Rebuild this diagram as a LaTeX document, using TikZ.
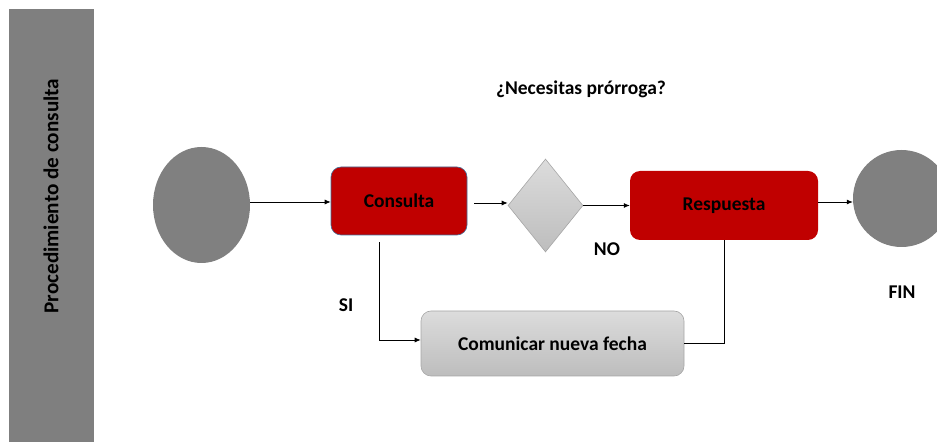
\documentclass[tikz,border=0pt]{standalone}
\usepackage{fontspec}
\setmainfont{Carlito}
\usetikzlibrary{shapes.geometric,arrows.meta,calc}
\definecolor{bandgray}{HTML}{7F7F7F}
\definecolor{circgray}{HTML}{808080}
\definecolor{boxred}{HTML}{C00000}
\definecolor{boxblue}{HTML}{41719C}
\definecolor{lgtop}{HTML}{DCDCDC}
\definecolor{lgbot}{HTML}{BDBDBD}
\definecolor{lgedge}{HTML}{A6A6A6}
\tikzset{
  lbl/.style={font=\fontsize{19.5bp}{23bp}\selectfont\bfseries, text=black, inner sep=0pt},
  redbox/.style={lbl, rectangle, rounded corners=10bp, fill=boxred},
  greybox/.style={lbl, rectangle, rounded corners=10bp, top color=lgtop, bottom color=lgbot, draw=lgedge, line width=0.6bp},
  event/.style={ellipse, fill=circgray, inner sep=0pt},
  arr/.style={-{Latex[length=6bp,width=5bp]}, line width=0.8bp, draw=black},
  ln/.style={line width=0.8bp, draw=black}
}
\begin{document}
\begin{tikzpicture}[x=1bp,y=-1bp]
\useasboundingbox (0,0) rectangle (937,442);
\clip (0,0) rectangle (937,442);
% lane band
\node[rectangle, fill=bandgray, minimum width=85bp, minimum height=433bp, inner sep=0pt, anchor=north west] (band) at (9,9) {};
\node[lbl, font=\fontsize{21.2bp}{25bp}\selectfont\bfseries, rotate=90] (lane) at (51,196) {Procedimiento de consulta};
% nodes
\node[event, minimum width=97bp, minimum height=116bp] (start) at (201.5,205) {};
\node[redbox, draw=boxblue, line width=0.6bp, minimum width=136bp, minimum height=68bp] (consulta) at (399,201) {Consulta};
\node[diamond, top color=lgtop, bottom color=lgbot, draw=lgedge, line width=0.6bp, minimum width=75bp, minimum height=93bp, inner sep=0pt] (dec) at (545.5,205.5) {};
\node[redbox, minimum width=188bp, minimum height=69bp] (resp) at (724,205.5) {Respuesta};
\node[event, minimum width=97bp, minimum height=97bp] (fin) at (901.5,198.5) {};
\node[greybox, minimum width=263bp, minimum height=65bp] (comm) at (552.5,343.5) {Comunicar nueva fecha};
% labels
\node[lbl] (q) at (581,89) {¿Necesitas prórroga?};
\node[lbl] (no) at (607,249) {NO};
\node[lbl] (si) at (346,305) {SI};
\node[lbl] (finl) at (902,292) {FIN};
% connectors
\draw[arr] (start.east |- 0,202) -- (consulta.west |- 0,202);
\draw[arr] ([xshift=7bp]consulta.east |- 0,203) -- (dec.west |- 0,203);
\draw[arr] (dec.east) -- (resp.west);
\draw[arr] (resp.east |- 0,202) -- (fin.west |- 0,202);
\coordinate (siTop) at ([xshift=-20bp,yshift=-7bp]consulta.south);
\draw[arr] (siTop) |- (comm.west |- 0,340);
\draw[ln] (resp.south) |- (comm.east);
\end{tikzpicture}
\end{document}
